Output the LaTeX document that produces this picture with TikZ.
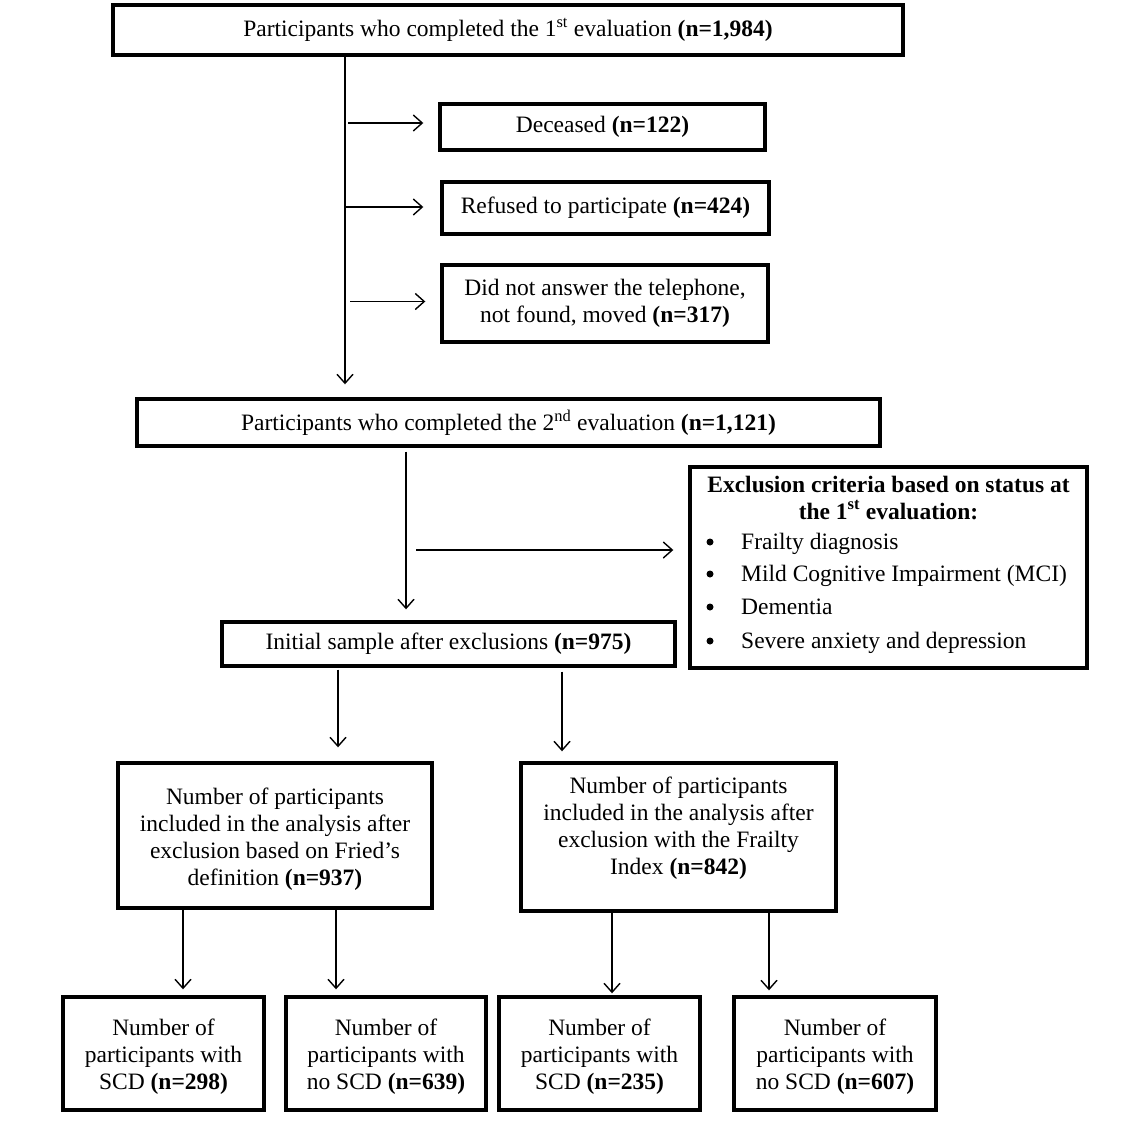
\documentclass[tikz,border=0pt]{standalone}
\usepackage{fontspec}
\setmainfont{Liberation Serif}
\usetikzlibrary{arrows.meta}
\begin{document}
\begin{tikzpicture}[x=1pt,y=-1pt,
  box/.style={draw=black,line width=3.4pt,rectangle,inner sep=0pt,align=center,
    font=\fontsize{23.5}{27}\selectfont},
  txt/.style={inner sep=0pt,align=center,font=\fontsize{23.5}{27}\selectfont},
  bul/.style={fill=black,circle,inner sep=0pt,minimum size=7pt},
  arr/.style={draw=black,line width=1.4pt,-{Straight Barb[length=9pt,width=16pt,line width=1.4pt]}}]
\useasboundingbox (0,0) rectangle (1120,1124);
\fill[white] (0,0) rectangle (1120,1124);
% boxes
\node[box,minimum width=790pt,minimum height=50pt] (b1) at (508,30)
  {Participants who completed the 1\textsuperscript{st} evaluation \textbf{(n=1,984)}};
\node[box,minimum width=325pt,minimum height=46pt] (dec) at (602.5,127)
  {Deceased \textbf{(n=122)}};
\node[box,minimum width=327pt,minimum height=52pt] (ref) at (605.5,208)
  {Refused to participate \textbf{(n=424)}};
\node[box,minimum width=326pt,minimum height=77pt] (dna) at (605,303.5)
  {Did not answer the telephone,\\not found, moved \textbf{(n=317)}};
\node[box,minimum width=743pt,minimum height=47pt] (b2) at (508.5,422.5)
  {Participants who completed the 2\textsuperscript{nd} evaluation \textbf{(n=1,121)}};
\node[box,minimum width=397pt,minimum height=201pt] (excl) at (888.5,567.5) {};
\node[txt,anchor=base] (ex1) at (888.5,492) {\textbf{Exclusion criteria based on status at}};
\node[txt,anchor=base] (ex2) at (888.5,519) {\textbf{the 1\textsuperscript{st} evaluation:}};
\node[bul] (bu1) at (710,542) {};
\node[bul] (bu2) at (710,574) {};
\node[bul] (bu3) at (710,607) {};
\node[bul] (bu4) at (710,641) {};
\node[txt,anchor=base west] (it1) at (741,549) {Frailty diagnosis};
\node[txt,anchor=base west] (it2) at (741,581) {Mild Cognitive Impairment (MCI)};
\node[txt,anchor=base west] (it3) at (741,614) {Dementia};
\node[txt,anchor=base west] (it4) at (741,648) {Severe anxiety and depression};
\node[box,minimum width=453pt,minimum height=44pt] (b975) at (448.5,644)
  {Initial sample after exclusions \textbf{(n=975)}};
\node[box,minimum width=314pt,minimum height=145pt] (b937) at (275,835.5) {};
\node[txt] (t937) at (275,839)
  {Number of participants\\included in the analysis after\\exclusion based on Fried’s\\definition \textbf{(n=937)}};
\node[box,minimum width=315pt,minimum height=148pt] (b842) at (678.5,837) {};
\node[txt,anchor=north] (t842) at (678.5,777)
  {Number of participants\\included in the analysis after\\exclusion with the Frailty\\Index \textbf{(n=842)}};
\node[box,minimum width=201pt,minimum height=113pt] (s1) at (163.5,1053.5) {};
\node[box,minimum width=200pt,minimum height=113pt] (s2) at (386,1053.5) {};
\node[box,minimum width=201pt,minimum height=113pt] (s3) at (599.5,1053.5) {};
\node[box,minimum width=202pt,minimum height=113pt] (s4) at (835,1053.5) {};
\node[txt] (t1) at ([yshift=-3pt]s1.center) {Number of\\participants with\\SCD \textbf{(n=298)}};
\node[txt] (t2) at ([yshift=-3pt]s2.center) {Number of\\participants with\\no SCD \textbf{(n=639)}};
\node[txt] (t3) at ([yshift=-3pt]s3.center) {Number of\\participants with\\SCD \textbf{(n=235)}};
\node[txt] (t4) at ([yshift=-3pt]s4.center) {Number of\\participants with\\no SCD \textbf{(n=607)}};
% reference x positions
\coordinate (v1) at (345,0);
\coordinate (v2) at (406,0);
\coordinate (ex0) at (416,550);
\coordinate (v3) at (338,0);
\coordinate (v4) at (562,0);
\coordinate (v5) at (183,0);
\coordinate (v6) at (336,0);
\coordinate (v7) at (612,0);
\coordinate (v8) at (769,0);
% connectors
\draw[arr,shorten >=13pt] (b1.south -| v1) -- (b2.north -| v1);
\draw[arr,shorten <=3pt,shorten >=15pt] ([yshift=4pt]v1 |- dec.west) -- ([yshift=4pt]dec.west);
\draw[arr,shorten >=17pt] ([yshift=1pt]v1 |- ref.west) -- ([yshift=1pt]ref.west);
\draw[arr,shorten <=5pt,shorten >=15pt] ([yshift=2pt]v1 |- dna.west) -- ([yshift=2pt]dna.west);
\draw[arr,shorten <=4pt,shorten >=11pt] (b2.south -| v2) -- (b975.north -| v2);
\draw[arr,shorten >=15pt] (ex0) -- (ex0 -| excl.west);
\draw[arr,shorten <=2pt,shorten >=14pt] (b975.south -| v3) -- (b937.north -| v3);
\draw[arr,shorten <=4pt,shorten >=10pt] (b975.south -| v4) -- (b842.north -| v4);
\draw[arr,shorten >=6pt] (b937.south -| v5) -- (s1.north -| v5);
\draw[arr,shorten >=6pt] (b937.south -| v6) -- (s2.north -| v6);
\draw[arr,shorten >=2pt] (b842.south -| v7) -- (s3.north -| v7);
\draw[arr,shorten >=5pt] (b842.south -| v8) -- (s4.north -| v8);
\end{tikzpicture}
\end{document}
